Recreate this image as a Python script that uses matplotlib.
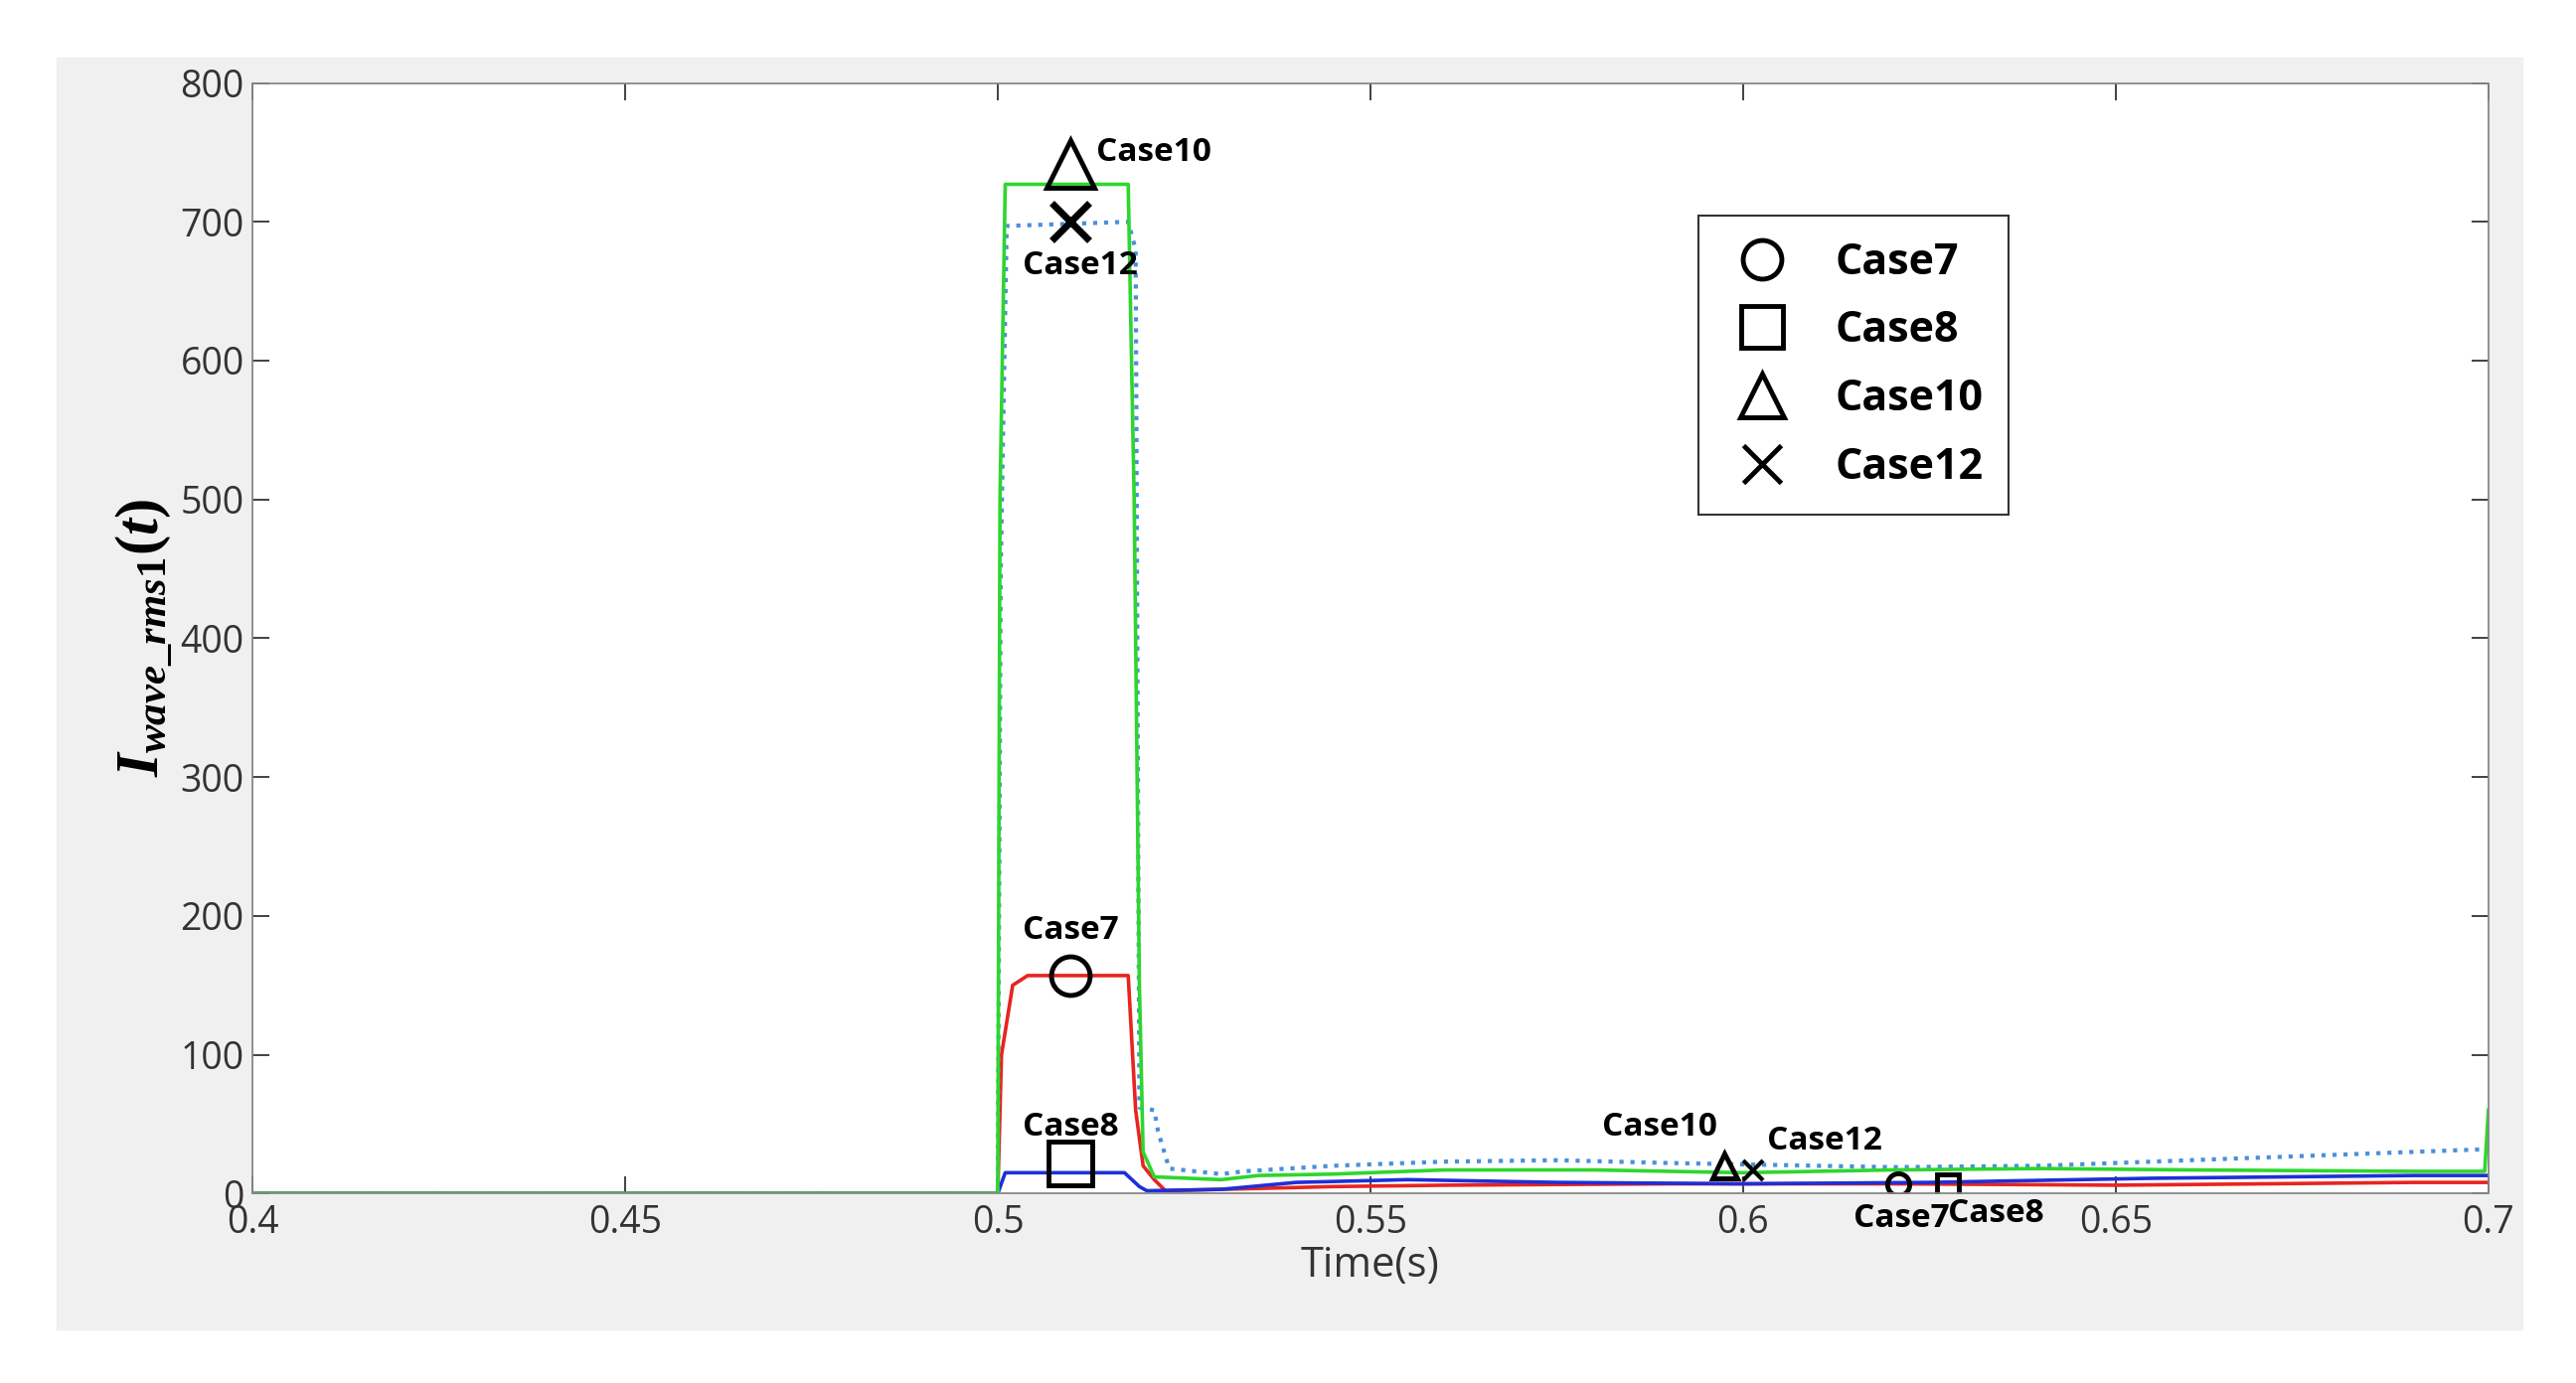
import numpy as np
import matplotlib.pyplot as plt

plt.rcParams['font.family'] = ['Open Sans', 'DejaVu Sans']
plt.rcParams['mathtext.fontset'] = 'custom'
plt.rcParams['mathtext.it'] = 'Liberation Serif:italic:bold'
plt.rcParams['mathtext.rm'] = 'Liberation Serif:bold'

# breakpoints (time in s, current)
t7 = [0.4, 0.5, 0.5005, 0.502, 0.504, 0.5175, 0.5185, 0.5195, 0.521, 0.5225, 0.53, 0.545, 0.56, 0.59, 0.62, 0.65, 0.67, 0.69, 0.7]
v7 = [0, 0, 100, 150, 157, 157, 60, 20, 10, 2, 3, 5, 6, 7, 7, 6, 7, 8, 8]
t8 = [0.4, 0.5, 0.501, 0.517, 0.519, 0.52, 0.53, 0.54, 0.555, 0.575, 0.6, 0.625, 0.655, 0.69, 0.7]
v8 = [0, 0, 15, 15, 5, 2, 3, 8, 10, 8, 7, 8, 11, 13, 13]
t10 = [0.4, 0.5, 0.5003, 0.501, 0.5175, 0.5183, 0.519, 0.5195, 0.521, 0.53, 0.535, 0.545, 0.56, 0.58, 0.6, 0.62, 0.64, 0.66, 0.69, 0.6995, 0.7]
v10 = [0, 0, 500, 727, 727, 500, 150, 30, 12, 10, 13, 14, 17, 17, 15, 17, 18, 17, 16, 16, 60]
t12 = [0.4, 0.5, 0.5004, 0.5012, 0.5175, 0.5185, 0.519, 0.521, 0.5215, 0.523, 0.53, 0.533, 0.545, 0.56, 0.575, 0.59, 0.62, 0.64, 0.66, 0.68, 0.7]
v12 = [0, 0, 450, 697, 700, 680, 62, 60, 45, 18, 14, 16, 20, 23, 24, 22, 19, 20, 24, 28, 32]

series = [(t7, v7, '#e8241f', '-'), (t8, v8, '#1f2fd6', '-'),
          (t12, v12, '#4a90d9', ':'), (t10, v10, '#2ed62e', '-')]

fig = plt.figure(figsize=(25.92, 13.92), dpi=100)
fig.patches.append(plt.Rectangle((0.022, 0.039), 0.957, 0.919, transform=fig.transFigure,
                                 color='#f0f0f0', zorder=-10))
ax = fig.add_axes([0.098, 0.137, 0.868, 0.803])
for t, v, c, ls in series:
    ax.plot(t, v, color=c, ls=ls, lw=3.0 if ls == ':' else 2.6)

ax.set_xlim(0.4, 0.7)
ax.set_ylim(0, 800)
ax.set_xticks([0.4, 0.45, 0.5, 0.55, 0.6, 0.65, 0.7])
ax.set_xticklabels(['0.4', '0.45', '0.5', '0.55', '0.6', '0.65', '0.7'])
ax.tick_params(labelsize=27, colors='#333333', direction='in', length=12, width=1.3,
               top=True, right=True)
ax.tick_params(axis='x', pad=8)
ax.tick_params(axis='y', pad=6)
for s in ax.spines.values():
    s.set_color('#888888')
    s.set_linewidth(1.3)
ax.set_xlabel('Time(s)', fontsize=30, color='#333333', labelpad=2)
ax.set_ylabel(r'$I_{wave\_rms1}(t)$', fontsize=44, labelpad=4)

mk = dict(color='black', mfc='none', mew=3.5, ls='none')
txt = dict(fontsize=24, fontweight='bold', color='black')
ax.plot(0.5098, 157, 'o', ms=28, **mk)
ax.text(0.5098, 178, 'Case7', ha='center', va='bottom', **txt)
ax.plot(0.5098, 22, 's', ms=32, **mk)
ax.text(0.5098, 36, 'Case8', ha='center', va='bottom', **txt)
ax.plot(0.5098, 742, '^', ms=34, **mk)
ax.text(0.5132, 750, 'Case10', ha='left', va='center', **txt)
ax.plot(0.5098, 700, 'x', ms=28, mew=5, color='black', ls='none')
ax.text(0.5111, 668, 'Case12', ha='center', va='center', **txt)

ax.plot(0.5975, 20, '^', ms=18, **mk)
ax.text(0.5965, 36, 'Case10', ha='right', va='bottom', **txt)
ax.plot(0.6013, 17, 'x', ms=14, mew=3, color='black', ls='none')
ax.text(0.6032, 26, 'Case12', ha='left', va='bottom', **txt)
ax.plot(0.6208, 7, 'o', ms=16, **mk)
ax.text(0.6148, -6, 'Case7', ha='left', va='top', **txt)
ax.plot(0.6275, 6, 's', ms=16, **mk)
ax.text(0.6275, -3, 'Case8', ha='left', va='top', **txt)

h = [plt.Line2D([], [], marker=m, ms=ms, mew=3.5, color='black', mfc='none', ls='none')
     for m, ms in [('o', 28), ('s', 30), ('^', 32), ('x', 28)]]
leg = ax.legend(h, ['Case7', 'Case8', 'Case10', 'Case12'], loc='upper left',
                bbox_to_anchor=(0.637, 0.9), prop={'weight': 'bold', 'size': 31},
                fancybox=False, edgecolor='black', labelspacing=0.6, borderpad=0.6,
                handletextpad=0.8, handlelength=1.8)
leg.get_frame().set_linewidth(1.5)

fig.savefig('out.png', dpi=100)
